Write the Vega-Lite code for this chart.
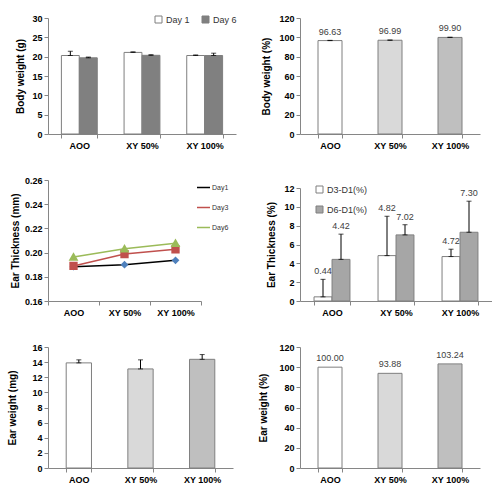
{
  "$schema": "https://vega.github.io/schema/vega-lite/v6.json",
  "background": "white",
  "padding": {"left": 7, "top": 14, "right": 0, "bottom": 0},
  "config": {
    "font": "Liberation Sans",
    "view": {"stroke": null},
    "axis": {"grid": false, "domainColor": "#868686", "tickColor": "#868686", "tickSize": 4, "labelFont": "Liberation Sans", "labelFontSize": 9, "labelFontWeight": "bold", "labelColor": "#000000", "titleFont": "Liberation Sans", "titleFontSize": 10, "titleFontWeight": "bold", "titleColor": "#000000", "labelPadding": 2, "labelOverlap": false},
    "axisX": {"labelAngle": 0, "tickBand": "extent", "title": null, "labelPadding": 3},
    "legend": {"padding": 0, "title": null, "labelFont": "Liberation Sans", "labelFontSize": 9, "labelColor": "#333333"},
    "text": {"font": "Liberation Sans", "fontSize": 9, "color": "#404040"}
  },
  "datasets": {
    "bw": [
      {"group": "AOO", "day": "Day 1", "value": 20.3, "upper": 21.4},
      {"group": "AOO", "day": "Day 6", "value": 19.7, "upper": 19.9},
      {"group": "XY 50%", "day": "Day 1", "value": 21.1, "upper": 21.25},
      {"group": "XY 50%", "day": "Day 6", "value": 20.35, "upper": 20.5},
      {"group": "XY 100%", "day": "Day 1", "value": 20.3, "upper": 20.45},
      {"group": "XY 100%", "day": "Day 6", "value": 20.3, "upper": 20.9}
    ],
    "bwp": [
      {"group": "AOO", "value": 96.63, "upper": 96.9},
      {"group": "XY 50%", "value": 96.99, "upper": 97.2},
      {"group": "XY 100%", "value": 99.9, "upper": 100.1}
    ],
    "et": [
      {"group": "AOO", "series": "Day1", "value": 0.1884},
      {"group": "XY 50%", "series": "Day1", "value": 0.1900},
      {"group": "XY 100%", "series": "Day1", "value": 0.1936},
      {"group": "AOO", "series": "Day3", "value": 0.1890},
      {"group": "XY 50%", "series": "Day3", "value": 0.1988},
      {"group": "XY 100%", "series": "Day3", "value": 0.2027},
      {"group": "AOO", "series": "Day6", "value": 0.1964},
      {"group": "XY 50%", "series": "Day6", "value": 0.2032},
      {"group": "XY 100%", "series": "Day6", "value": 0.2077}
    ],
    "etp": [
      {"group": "AOO", "series": "D3-D1(%)", "value": 0.44, "upper": 2.3},
      {"group": "AOO", "series": "D6-D1(%)", "value": 4.42, "upper": 7.1},
      {"group": "XY 50%", "series": "D3-D1(%)", "value": 4.82, "upper": 9.0},
      {"group": "XY 50%", "series": "D6-D1(%)", "value": 7.02, "upper": 8.1},
      {"group": "XY 100%", "series": "D3-D1(%)", "value": 4.72, "upper": 5.5},
      {"group": "XY 100%", "series": "D6-D1(%)", "value": 7.30, "upper": 10.6}
    ],
    "ew": [
      {"group": "AOO", "value": 13.9, "upper": 14.3},
      {"group": "XY 50%", "value": 13.1, "upper": 14.3},
      {"group": "XY 100%", "value": 14.37, "upper": 15.0}
    ],
    "ewp": [
      {"group": "AOO", "value": 100.00},
      {"group": "XY 50%", "value": 93.88},
      {"group": "XY 100%", "value": 103.24}
    ]
  },
  "columns": 2,
  "bounds": "flush",
  "spacing": {"row": 46, "column": 64},
  "resolve": {"scale": {"fill": "independent", "stroke": "independent", "shape": "independent"}},
  "concat": [
    {
      "width": 188, "height": 116,
      "data": {"name": "bw"},
      "encoding": {
        "x": {"field": "group", "type": "nominal", "sort": ["AOO", "XY 50%", "XY 100%"], "scale": {"paddingInner": 0.43, "paddingOuter": 0.215}},
        "y": {"field": "value", "type": "quantitative", "scale": {"domain": [0, 30]}, "axis": {"values": [0, 5, 10, 15, 20, 25, 30], "labelOverlap": false, "title": "Body weight (g)", "titlePadding": 6}},
        "fill": {"field": "day", "type": "nominal", "scale": {"domain": ["Day 1", "Day 6"], "range": ["#ffffff", "#808080"]},
          "legend": {"orient": "none", "legendX": 106, "legendY": -3, "direction": "horizontal", "symbolType": "square", "symbolSize": 49, "symbolStrokeColor": "#7f7f7f", "symbolStrokeWidth": 1, "columnPadding": 10, "labelOffset": 3}}
      },
      "layer": [
        {"transform": [{"filter": "datum.day == 'Day 1'"}], "mark": {"type": "bar", "stroke": "#7f7f7f", "strokeWidth": 1, "width": {"band": 0.5}, "xOffset": -9}},
        {"transform": [{"filter": "datum.day == 'Day 6'"}], "mark": {"type": "bar", "stroke": "#7f7f7f", "strokeWidth": 1, "width": {"band": 0.5}, "xOffset": 9}},
        {"transform": [{"filter": "datum.day == 'Day 1'"}], "mark": {"type": "errorbar", "ticks": {"size": 5, "color": "#000000", "xOffset": -9}, "rule": {"color": "#000000", "xOffset": -9}}, "encoding": {"y2": {"field": "upper"}, "fill": {"value": "#000000"}}},
        {"transform": [{"filter": "datum.day == 'Day 6'"}], "mark": {"type": "errorbar", "ticks": {"size": 5, "color": "#000000", "xOffset": 9}, "rule": {"color": "#000000", "xOffset": 9}}, "encoding": {"y2": {"field": "upper"}, "fill": {"value": "#000000"}}}
      ]
    },
    {
      "width": 180, "height": 116,
      "data": {"name": "bwp"},
      "encoding": {
        "x": {"field": "group", "type": "nominal", "sort": ["AOO", "XY 50%", "XY 100%"], "scale": {"paddingInner": 0.6, "paddingOuter": 0.3}},
        "y": {"field": "value", "type": "quantitative", "scale": {"domain": [0, 120]}, "axis": {"values": [0, 20, 40, 60, 80, 100, 120], "labelOverlap": false, "title": "Body weight (%)", "titlePadding": 7}}
      },
      "layer": [
        {
          "mark": {"type": "bar", "stroke": "#7f7f7f", "strokeWidth": 1},
          "encoding": {
            "fill": {"field": "group", "type": "nominal", "scale": {"domain": ["AOO", "XY 50%", "XY 100%"], "range": ["#ffffff", "#d9d9d9", "#bfbfbf"]}, "legend": null}
          }
        },
        {"mark": {"type": "errorbar", "ticks": {"size": 5, "color": "#000000"}, "rule": {"color": "#000000"}}, "encoding": {"y2": {"field": "upper"}}},
        {"mark": {"type": "text", "dy": -9}, "encoding": {"text": {"field": "value", "type": "quantitative", "format": ".2f"}}}
      ]
    },
    {
      "width": 153, "height": 121,
      "data": {"name": "et"},
      "encoding": {
        "x": {"field": "group", "type": "nominal", "sort": ["AOO", "XY 50%", "XY 100%"], "bandPosition": 0.5, "scale": {"type": "band", "paddingInner": 0, "paddingOuter": 0}},
        "y": {"field": "value", "type": "quantitative", "scale": {"domain": [0.16, 0.26], "zero": false}, "axis": {"values": [0.16, 0.18, 0.2, 0.22, 0.24, 0.26], "labelOverlap": false, "format": ".2f", "title": "Ear Thickness (mm)", "titlePadding": 4}}
      },
      "layer": [
        {
          "mark": {"type": "line", "strokeWidth": 1.5},
          "encoding": {
            "stroke": {"field": "series", "type": "nominal", "scale": {"domain": ["Day1", "Day3", "Day6"], "range": ["#000000", "#c0504d", "#9bbb59"]},
              "legend": {"orient": "none", "legendX": 148, "legendY": 0, "symbolType": "stroke", "symbolSize": 169, "symbolStrokeWidth": 1.5, "labelFontSize": 7, "labelOffset": 1, "rowPadding": 9}}
          }
        },
        {"transform": [{"filter": "datum.series == 'Day1'"}], "mark": {"type": "point", "shape": "diamond", "filled": true, "fill": "#4f81bd", "stroke": "#4f81bd", "opacity": 1, "size": 25}},
        {"transform": [{"filter": "datum.series == 'Day3'"}], "mark": {"type": "point", "shape": "square", "filled": true, "fill": "#c0504d", "stroke": "#c0504d", "opacity": 1, "size": 40}},
        {"transform": [{"filter": "datum.series == 'Day6'"}], "mark": {"type": "point", "shape": "triangle-up", "filled": true, "fill": "#9bbb59", "stroke": "#9bbb59", "opacity": 1, "size": 40}}
      ]
    },
    {
      "width": 192, "height": 121,
      "data": {"name": "etp"},
      "encoding": {
        "x": {"field": "group", "type": "nominal", "sort": ["AOO", "XY 50%", "XY 100%"], "scale": {"paddingInner": 0.44, "paddingOuter": 0.22}},
        "y": {"field": "value", "type": "quantitative", "scale": {"domain": [0, 12], "range": [121, 8]}},
        "fill": {"field": "series", "type": "nominal", "scale": {"domain": ["D3-D1(%)", "D6-D1(%)"], "range": ["#ffffff", "#a6a6a6"]},
          "legend": {"orient": "none", "legendX": 15, "legendY": 5, "symbolType": "square", "symbolSize": 49, "symbolStrokeColor": "#7f7f7f", "symbolStrokeWidth": 1, "rowPadding": 9, "labelOffset": 3}}
      },
      "resolve": {"scale": {"y": "independent"}},
      "layer": [
        {
          "transform": [{"filter": "datum.series == 'D3-D1(%)'"}],
          "mark": {"type": "bar", "stroke": "#7f7f7f", "strokeWidth": 1, "width": {"band": 0.5}, "xOffset": -9},
          "encoding": {
            "y": {"field": "value", "type": "quantitative", "scale": {"domain": [0, 12], "range": [121, 8]}, "axis": {"values": [0, 2, 4, 6, 8, 10, 12], "labelOverlap": false, "title": "Ear Thickness (%)", "titlePadding": 7}}
          }
        },
        {
          "transform": [{"filter": "datum.series == 'D6-D1(%)'"}],
          "mark": {"type": "bar", "stroke": "#7f7f7f", "strokeWidth": 1, "width": {"band": 0.5}, "xOffset": 9},
          "encoding": {"y": {"field": "value", "type": "quantitative", "scale": {"domain": [0, 12], "range": [121, 8]}, "axis": null}}
        },
        {"transform": [{"filter": "datum.series == 'D3-D1(%)'"}], "mark": {"type": "errorbar", "ticks": {"size": 5, "color": "#000000", "xOffset": -9}, "rule": {"color": "#000000", "xOffset": -9}}, "encoding": {"y": {"field": "value", "type": "quantitative", "scale": {"domain": [0, 12], "range": [121, 8]}, "axis": null}, "y2": {"field": "upper"}, "fill": {"value": "#000000"}}},
        {"transform": [{"filter": "datum.series == 'D6-D1(%)'"}], "mark": {"type": "errorbar", "ticks": {"size": 5, "color": "#000000", "xOffset": 9}, "rule": {"color": "#000000", "xOffset": 9}}, "encoding": {"y": {"field": "value", "type": "quantitative", "scale": {"domain": [0, 12], "range": [121, 8]}, "axis": null}, "y2": {"field": "upper"}, "fill": {"value": "#000000"}}},
        {"transform": [{"filter": "datum.series == 'D3-D1(%)'"}], "mark": {"type": "text", "dy": -8, "xOffset": -9}, "encoding": {"y": {"field": "upper", "type": "quantitative", "scale": {"domain": [0, 12], "range": [121, 8]}, "axis": null}, "text": {"field": "value", "type": "quantitative", "format": ".2f"}, "fill": {"value": "#404040"}}},
        {"transform": [{"filter": "datum.series == 'D6-D1(%)'"}], "mark": {"type": "text", "dy": -8, "xOffset": 9}, "encoding": {"y": {"field": "upper", "type": "quantitative", "scale": {"domain": [0, 12], "range": [121, 8]}, "axis": null}, "text": {"field": "value", "type": "quantitative", "format": ".2f"}, "fill": {"value": "#404040"}}}
      ]
    },
    {
      "width": 185, "height": 121,
      "data": {"name": "ew"},
      "encoding": {
        "x": {"field": "group", "type": "nominal", "sort": ["AOO", "XY 50%", "XY 100%"], "scale": {"paddingInner": 0.59, "paddingOuter": 0.295}},
        "y": {"field": "value", "type": "quantitative", "scale": {"domain": [0, 16]}, "axis": {"values": [0, 2, 4, 6, 8, 10, 12, 14, 16], "labelOverlap": false, "title": "Ear weight (mg)", "titlePadding": 14}}
      },
      "layer": [
        {
          "mark": {"type": "bar", "stroke": "#7f7f7f", "strokeWidth": 1},
          "encoding": {
            "fill": {"field": "group", "type": "nominal", "scale": {"domain": ["AOO", "XY 50%", "XY 100%"], "range": ["#ffffff", "#d9d9d9", "#bfbfbf"]}, "legend": null}
          }
        },
        {"mark": {"type": "errorbar", "ticks": {"size": 5, "color": "#000000"}, "rule": {"color": "#000000"}}, "encoding": {"y2": {"field": "upper"}}}
      ]
    },
    {
      "width": 180, "height": 121,
      "data": {"name": "ewp"},
      "encoding": {
        "x": {"field": "group", "type": "nominal", "sort": ["AOO", "XY 50%", "XY 100%"], "scale": {"paddingInner": 0.6, "paddingOuter": 0.3}},
        "y": {"field": "value", "type": "quantitative", "scale": {"domain": [0, 120]}, "axis": {"values": [0, 20, 40, 60, 80, 100, 120], "labelOverlap": false, "title": "Ear weight (%)", "titlePadding": 10}}
      },
      "layer": [
        {
          "mark": {"type": "bar", "stroke": "#7f7f7f", "strokeWidth": 1},
          "encoding": {
            "fill": {"field": "group", "type": "nominal", "scale": {"domain": ["AOO", "XY 50%", "XY 100%"], "range": ["#ffffff", "#d9d9d9", "#bfbfbf"]}, "legend": null}
          }
        },
        {"mark": {"type": "text", "dy": -9}, "encoding": {"text": {"field": "value", "type": "quantitative", "format": ".2f"}}}
      ]
    }
  ]
}
